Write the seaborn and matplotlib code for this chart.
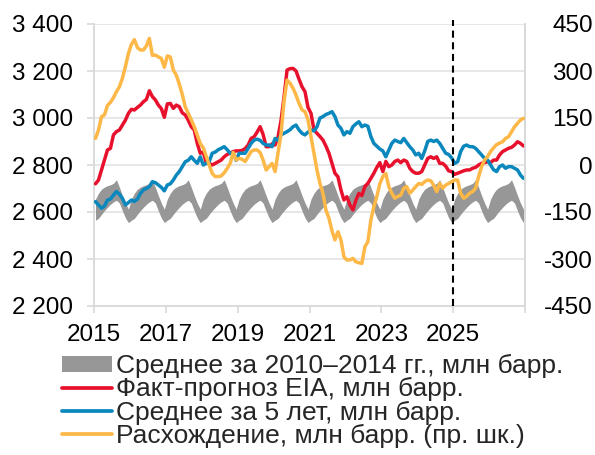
import numpy as np
import pandas as pd
import matplotlib
matplotlib.use("Agg")
import matplotlib.pyplot as plt
import seaborn as sns
from matplotlib.patches import Patch
from matplotlib.lines import Line2D

sns.set_theme(style="white")
plt.rcParams['font.family'] = ['Liberation Sans', 'DejaVu Sans']

# ---------------- data (monthly, Jan 2015 – Dec 2026) ----------------
start_year = 2015

eia = [2720, 2736, 2779, 2821, 2864, 2871, 2928, 2942, 2949, 2970, 2991, 3020,
       3037, 3034, 3045, 3055, 3069, 3079, 3116, 3091, 3077, 3055, 3040, 3003,
       3060, 3062, 3041, 3055, 3048, 3022, 3013, 2990, 2963, 2949, 2892, 2850,
       2855, 2810, 2807, 2800, 2807, 2814, 2821, 2835, 2845, 2850, 2857, 2860,
       2860, 2862, 2870, 2885, 2913, 2920, 2940, 2963, 2930, 2878, 2878, 2890,
       2885, 2920, 2990, 3090, 3204, 3210, 3211, 3200, 3165, 3133, 3112, 3045,
       3020, 2949, 2935, 2921, 2906, 2880, 2850, 2807, 2765, 2750, 2694, 2651,
       2665, 2630, 2609, 2650, 2679, 2670, 2708, 2722, 2743, 2765, 2790, 2810,
       2772, 2815, 2793, 2800, 2815, 2821, 2810, 2821, 2815, 2786, 2772, 2765,
       2765, 2772, 2800, 2828, 2835, 2828, 2835, 2807, 2807, 2795, 2775, 2772,
       2760, 2765, 2770, 2775, 2779, 2779, 2786, 2790, 2800, 2807, 2810, 2814,
       2810, 2821, 2821, 2843, 2857, 2864, 2871, 2875, 2885, 2899, 2892, 2881]

avg5 = [2644, 2630, 2616, 2625, 2651, 2655, 2672, 2687, 2675, 2658, 2630, 2640,
        2651, 2645, 2655, 2679, 2694, 2700, 2708, 2729, 2725, 2715, 2705, 2690,
        2715, 2720, 2736, 2757, 2772, 2793, 2814, 2820, 2835, 2820, 2807, 2835,
        2800, 2807, 2815, 2850, 2855, 2865, 2871, 2878, 2865, 2850, 2850, 2820,
        2850, 2850, 2850, 2871, 2892, 2906, 2910, 2905, 2892, 2885, 2885, 2878,
        2913, 2905, 2928, 2935, 2942, 2950, 2963, 2970, 2949, 2935, 2928, 2940,
        2949, 2945, 2963, 3000, 3006, 3015, 3020, 3027, 3006, 2970, 2956, 2928,
        2942, 2935, 2963, 2975, 2984, 2963, 2970, 2965, 2921, 2892, 2880, 2868,
        2860, 2835, 2864, 2892, 2906, 2900, 2895, 2913, 2895, 2878, 2864, 2843,
        2850, 2828, 2860, 2900, 2906, 2900, 2906, 2892, 2871, 2850, 2845, 2830,
        2807, 2814, 2857, 2880, 2885, 2878, 2878, 2871, 2857, 2843, 2828, 2821,
        2800, 2780, 2772, 2793, 2800, 2786, 2793, 2793, 2786, 2779, 2757, 2743]

gap = [85, 112, 154, 160, 190, 200, 215, 234, 250, 277, 314, 356,
       385, 400, 375, 367, 367, 380, 404, 350, 351, 345, 340, 312,
       348, 345, 303, 287, 258, 225, 185, 165, 144, 122, 96, 69,
       55, 27, 0, -27, -37, -37, -35, -25, -11, 5, 40, 16,
       21, 18, 11, 27, 43, 48, 48, 40, 16, -16, -5, 5,
       -21, 40, 100, 205, 271, 261, 245, 223, 197, 176, 170, 144,
       90, 37, -16, -59, -90, -144, -170, -210, -239, -213, -239, -293,
       -303, -303, -298, -309, -312, -314, -261, -245, -176, -133, -100, -60,
       -37, -27, -69, -90, -106, -100, -96, -74, -69, -90, -80, -69,
       -59, -62, -53, -48, -50, -65, -85, -59, -74, -64, -59, -53,
       -48, -48, -90, -106, -100, -90, -85, -74, -37, -5, 16, 27,
       43, 55, 65, 70, 74, 85, 90, 106, 122, 133, 144, 149]

# 2010–2014 average range: the same seasonal profile (Jan..Dec) every year
band_low_season = [2565, 2573, 2590, 2606, 2620, 2633, 2643, 2650, 2638, 2605, 2575, 2555]
band_high_season = [2655, 2680, 2697, 2706, 2712, 2716, 2722, 2737, 2705, 2670, 2638, 2612]
n_years = 12

forecast_start = 2025.0

x_ticks = [2015, 2017, 2019, 2021, 2023, 2025, 2027]
x_labels = ['2015', '2017', '2019', '2021', '2023', '2025', '']
left_ticks = [2200, 2400, 2600, 2800, 3000, 3200, 3400]
left_labels = ['2 200', '2 400', '2 600', '2 800', '3 000', '3 200', '3 400']
right_ticks = [-450, -300, -150, 0, 150, 300, 450]
right_labels = ['-450', '-300', '-150', '0', '150', '300', '450']

labels = ['Среднее за 2010–2014 гг., млн барр.',
          'Факт-прогноз EIA, млн барр.',
          'Среднее за 5 лет, млн барр.',
          'Расхождение, млн барр. (пр. шк.)']

# ---------------- build frame ----------------
months = np.arange(len(eia))
xpos = start_year + (months + 0.5) / 12.0
band_low = np.tile(band_low_season, n_years)
band_high = np.tile(band_high_season, n_years)
df = pd.DataFrame({'x': xpos, 'eia': eia, 'avg5': avg5, 'gap': gap,
                   'lo': band_low, 'hi': band_high})

GRAY = '#979797'
RED = '#E8112D'
BLUE = '#0A88BE'
ORANGE = '#FDB847'
AXC = '#D9D9D9'
FS = 17.5
LFS = 19

fig = plt.figure(figsize=(5.95, 4.55), dpi=100)
ax = fig.add_axes([94 / 595, 1 - 306 / 455, (525 - 94) / 595, (306 - 24) / 455])

ax.fill_between(df['x'], df['lo'], df['hi'], color=GRAY, lw=0, zorder=2)
sns.lineplot(data=df, x='x', y='eia', ax=ax, color=RED, lw=2.5, legend=False, zorder=3)
sns.lineplot(data=df, x='x', y='avg5', ax=ax, color=BLUE, lw=2.5, legend=False, zorder=4)

ax.set_xlim(2015, 2027)
ax.set_ylim(2200, 3400)
ax.set_xticks(x_ticks)
ax.set_xticklabels(x_labels)
ax.set_yticks(left_ticks)
ax.set_yticklabels(left_labels)
ax.set_xlabel('')
ax.set_ylabel('')
ax.yaxis.grid(True, color='#E5E5E5', lw=1.3)
ax.xaxis.grid(False)
ax.set_axisbelow(True)
ax.spines['top'].set_visible(False)
for s in ['left', 'bottom', 'right']:
    ax.spines[s].set_color(AXC)
    ax.spines[s].set_linewidth(1.3)
ax.tick_params(axis='x', length=5, width=1.2, color=AXC, pad=8, labelsize=FS, labelcolor='black', bottom=True)
ax.tick_params(axis='y', length=5, width=1.2, color=AXC, pad=10, labelsize=FS, labelcolor='black', left=True)

ax.axvline(forecast_start, ymin=0, ymax=1.015, color='black', lw=1.5,
           ls=(0, (3.4, 2.2)), clip_on=False, zorder=6)

ax2 = ax.twinx()
sns.lineplot(data=df, x='x', y='gap', ax=ax2, color=ORANGE, lw=2.5, legend=False, zorder=5)
ax2.set_ylim(-450, 450)
ax2.set_yticks(right_ticks)
ax2.set_yticklabels(right_labels)
ax2.set_ylabel('')
ax2.set_xlim(2015, 2027)
for s in ['top', 'left', 'bottom']:
    ax2.spines[s].set_visible(False)
ax2.spines['right'].set_color(AXC)
ax2.spines['right'].set_linewidth(1.3)
ax2.tick_params(axis='y', length=0, pad=49, labelsize=FS, labelcolor='black', right=True)
for t in ax2.get_yticklabels():
    t.set_horizontalalignment('right')

handles = [Patch(facecolor=GRAY, edgecolor='none'),
           Line2D([], [], color=RED, lw=2.7),
           Line2D([], [], color=BLUE, lw=2.7),
           Line2D([], [], color=ORANGE, lw=2.7)]
fig.legend(handles, labels, loc='upper left', bbox_to_anchor=(62 / 595, 1 - 354 / 455),
           frameon=False, fontsize=LFS, handlelength=1.9, handleheight=0.55,
           handletextpad=0.15, labelspacing=-0.03, borderpad=0, borderaxespad=0)

fig.savefig('out.png', dpi=100)
